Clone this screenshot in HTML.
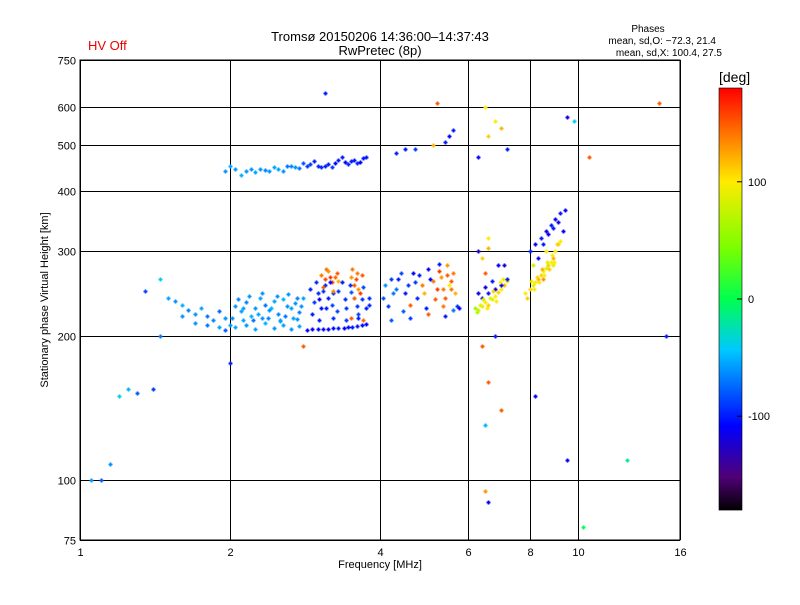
<!DOCTYPE html>
<html><head><meta charset="utf-8"><style>
body{margin:0;background:#fff;}
svg text{font-family:"Liberation Sans",sans-serif;}
</style></head><body>
<svg id="chart" width="800" height="600" xmlns="http://www.w3.org/2000/svg">
<rect width="800" height="600" fill="#fff"/>
<text x="380" y="41" font-size="13" text-anchor="middle">Tromsø 20150206 14:36:00–14:37:43</text>
<text x="380" y="55" font-size="13" text-anchor="middle">RwPretec (8p)</text>
<text x="88" y="50" font-size="13" fill="#e00">HV Off</text>
<text x="648" y="32" font-size="10" text-anchor="middle">Phases</text>
<text x="716" y="44" font-size="10" text-anchor="end">mean, sd,O: −72.3, 21.4</text>
<text x="722" y="56" font-size="10" text-anchor="end">mean, sd,X: 100.4, 27.5</text>
<g id="grid"></g>
<g id="marks"></g>
<rect x="80" y="60" width="600" height="480" fill="none" stroke="#000" stroke-width="1"/>
<g id="xt"></g>
<g id="yt"></g>
<text x="380" y="568" font-size="11" text-anchor="middle">Frequency [MHz]</text>
<text transform="translate(48,300) rotate(-90)" font-size="11" text-anchor="middle">Stationary phase Virtual Height [km]</text>
<g id="cbar"></g>
<text x="719" y="82" font-size="14">[deg]</text>
</svg>
<script>
const xTicks=[1,2,4,6,8,10,16];
const yTicks=[75,100,200,300,400,500,600,750];
const cbTicks=[100,0,-100];
const freq=[
1.35,1.45,1.5,1.55,1.6,1.65,1.7,1.75,1.8,1.85,1.9,1.95,
1.6,1.7,1.8,1.9,1.95,2.0,
2.05,2.1,2.15,2.2,2.25,2.3,2.35,2.4,2.45,2.5,2.55,2.6,2.65,2.7,2.75,2.8,
2.05,2.15,2.25,2.35,2.45,2.55,2.65,2.75,
2.9,2.95,3.0,3.05,3.1,3.15,3.2,3.3,3.4,3.5,3.6,3.7,3.8,
2.85,3.0,3.15,3.3,3.45,3.6,3.75,
3.05,3.1,3.15,3.2,3.25,3.5,3.55,3.6,3.65,3.3,3.5,3.7,
1.95,2.0,2.05,2.1,2.2,2.4,2.5,2.6,2.7,2.8,2.9,3.0,3.1,3.2,3.3,3.4,3.5,3.6,3.7,
4.05,4.1,4.2,4.3,4.4,4.5,4.6,4.7,4.8,4.9,5.0,5.1,5.2,5.3,5.4,5.5,5.6,5.7,
4.2,4.6,5.0,5.4,5.6,5.75,
4.3,4.5,4.7,5.5,5.6,5.4,5.1,5.2,
6.2,6.3,6.4,6.5,6.6,6.7,6.8,6.9,7.0,7.1,7.2,6.4,6.6,6.8,7.0,7.2,6.3,6.6,7.1,6.5,
6.6,6.8,7.0,6.5,7.2,6.3,
7.8,8.0,8.1,8.2,8.3,8.4,8.5,8.6,8.7,8.8,8.9,9.0,9.1,9.2,8.0,8.2,8.4,8.6,8.8,9.0,9.2,9.4,8.5,8.9,
1.05,1.1,1.15,1.2,1.25,1.3,1.4,1.45,3.1,2.8,2.0,6.5,6.6,8.2,9.5,10.2,12.5,15.0,14.5,10.5,9.8,9.5,6.8,6.4,7.0,6.6,6.5,
2.02,2.08,2.12,2.18,2.22,2.28,2.32,2.38,2.42,2.48,2.52,2.58,2.62,2.68,2.72,2.78,2.12,2.32,2.52,2.72,
2.92,2.98,3.02,3.08,3.12,3.18,3.22,3.28,3.35,3.42,3.48,3.55,3.62,3.68,3.75,3.02,3.22,3.42,3.62,3.8,
2.92,3.08,3.22,3.38,3.52,3.68,
3.08,3.12,3.18,3.22,3.28,3.52,3.58,3.62,3.68,3.55,
2.15,2.25,2.3,2.35,2.45,2.55,2.65,2.75,2.85,2.95,3.05,3.15,3.25,3.35,3.45,3.55,3.65,3.75,
4.15,4.25,4.35,4.45,4.55,4.65,4.75,4.85,4.95,5.05,5.15,5.25,5.35,5.45,5.55,5.65,5.25,5.35,5.45,5.55,
6.25,6.35,6.45,6.55,6.65,6.75,6.85,6.95,7.05,6.3,6.5,6.7,6.9,6.4,6.6,
7.9,8.05,8.15,8.25,8.35,8.45,8.55,8.65,8.75,8.85,8.95,9.05,8.3,8.5,8.7,8.9,9.1,8.1,8.6,9.3
];
const height=[
248,262,240,236,232,226,222,228,220,215,225,218,
220,212,210,208,205,210,
230,225,235,220,228,240,232,226,236,222,238,230,228,234,224,240,
208,210,206,212,207,210,206,209,
250,235,245,228,255,240,232,248,238,246,230,252,240,
205,206,206,207,208,209,211,
268,262,272,258,265,265,255,270,245,260,218,215,
440,450,445,432,445,440,445,450,448,458,455,450,452,448,465,460,462,458,468,
240,255,262,250,270,245,232,258,268,245,275,260,250,265,240,255,270,230,
215,218,222,220,226,228,
480,490,490,520,535,505,500,610,
228,226,230,235,232,238,242,246,250,255,260,240,245,250,255,262,300,305,280,270,
520,560,540,600,490,470,
245,250,255,258,262,268,272,276,280,285,290,300,310,315,300,310,320,330,340,350,360,365,262,280,
100,100,108,150,155,152,155,200,640,190,175,95,90,150,110,80,110,200,610,470,560,570,200,190,140,160,130,
218,238,228,242,215,222,245,218,228,242,215,220,244,218,240,230,215,218,214,216,
222,258,238,248,228,258,245,225,258,228,255,240,222,238,228,215,218,215,218,232,
206,206,207,207,208,210,
252,275,265,248,270,275,262,250,268,240,
440,438,445,442,448,440,452,446,450,462,448,455,458,470,455,465,460,470,
230,245,262,225,255,270,240,255,228,262,238,272,250,280,260,245,282,230,268,250,
224,232,238,228,240,248,236,258,262,245,252,260,280,290,320,
240,260,250,265,258,275,268,285,275,295,285,310,290,310,325,335,345,280,300,330
];
const phase=[
-85,-40,-55,-60,-50,-65,-60,-55,-70,-65,-75,-60,
-60,-60,-70,-55,-80,-60,
-60,-55,-65,-50,-60,-55,-70,-60,-55,-65,-50,-60,-55,-60,-65,-55,
-55,-60,-55,-50,-60,-55,-60,-55,
-100,-90,-95,-105,-95,-100,-85,-90,-95,-80,-90,-85,-95,
-110,-105,-110,-100,-105,-100,-110,
140,155,130,150,145,130,150,140,160,120,150,145,
-60,-55,-60,-50,-60,-60,-55,-70,-60,-80,-90,-95,-100,-90,-100,-110,-100,-95,-100,
-80,-60,-90,-70,-85,-100,150,-90,-100,120,-110,140,160,130,150,100,140,-90,
-80,-90,150,-100,-70,-110,
-100,-100,-90,-110,-100,-100,120,150,
60,80,90,100,110,90,100,110,100,120,90,-110,-100,-120,-110,-100,-130,120,-120,150,
110,100,120,100,-100,-110,
100,110,90,100,120,110,100,90,110,100,120,100,110,100,-100,-110,-100,-120,-100,-110,-100,-110,130,90,
-60,-80,-60,-40,-50,-80,-90,-70,-100,150,-100,130,-110,-110,-110,0,-20,-100,150,150,-40,-120,-100,150,150,150,-50,
-60,-65,-55,-60,-70,-55,-60,-65,-50,-60,-55,-70,-60,-55,-65,-60,-55,-60,-55,-60,
-100,-95,-110,-90,-100,-105,-95,-85,-100,-90,-95,-100,-85,-90,-100,-100,-95,-90,-100,-95,
-110,-105,-105,-110,-100,-105,
150,140,160,135,150,140,155,130,150,145,
-60,-55,-60,-65,-55,-60,-65,-70,-90,-100,-95,-100,-110,-100,-95,-100,-110,-100,
-90,-70,-100,-80,-90,-110,-95,140,-100,-105,150,160,140,130,150,120,-100,140,150,140,
70,90,80,100,90,110,100,100,90,-110,-120,-100,-110,110,100,
110,90,100,110,100,120,100,90,110,100,100,110,-110,-100,-110,-100,-120,80,100,-110
];
const NS='http://www.w3.org/2000/svg';
const X0=80,X1=680,Y0=540,Y1=60;
function xs(f){return X0+(X1-X0)*Math.log2(f)/4;}
function ys(h){return Y0-(Y0-Y1)*Math.log10(h/75);}
const stops=[[0,0,0,0],[0.08,80,0,120],[0.2,0,0,255],[0.38,0,200,255],[0.5,0,255,80],[0.62,120,255,0],[0.78,255,235,0],[0.88,255,130,0],[1,255,0,0]];
function col(p){let t=(p+180)/360;t=Math.max(0,Math.min(1,t));for(let i=1;i<stops.length;i++){if(t<=stops[i][0]){const a=stops[i-1],b=stops[i],u=(t-a[0])/(b[0]-a[0]);return 'rgb('+[1,2,3].map(k=>Math.round(a[k]+(b[k]-a[k])*u)).join(',')+')';}}return 'rgb(255,0,0)';}
function mk(tag,attrs,parent){const e=document.createElementNS(NS,tag);for(const k in attrs)e.setAttribute(k,attrs[k]);parent.appendChild(e);return e;}
const grid=document.getElementById('grid'),xt=document.getElementById('xt'),yt=document.getElementById('yt');
xTicks.forEach(v=>{const x=Math.round(xs(v))+0.5;
const l=mk('line',{x1:x,x2:x,y1:Y1,y2:Y0,stroke:'#000','stroke-width':1},grid);


const t=mk('text',{x:x,y:556,'font-size':11,'text-anchor':'middle'},xt);t.textContent=v;

});
yTicks.forEach(v=>{const y=Math.round(ys(v))+0.5;
const l=mk('line',{x1:X0,x2:X1,y1:y,y2:y,stroke:'#000','stroke-width':1},grid);


const t=mk('text',{x:76,y:y+4,'font-size':11,'text-anchor':'end'},yt);t.textContent=v;

});
const marks=document.getElementById('marks');
for(let i=0;i<freq.length;i++){const x=Math.round(xs(freq[i]))+0.5,y=Math.round(ys(height[i]))+0.5;
const p=mk('path',{d:`M${x-2},${y}h4M${x},${y-2}v4`,stroke:col(phase[i]),'stroke-width':1.8,fill:'none'},marks);

}
const cb=document.getElementById('cbar');const CT=88,CB=510,CX=719,CW=23;
for(let y=CT;y<CB;y++){const v=180-(y-CT)/(CB-CT)*360;mk('rect',{x:CX,y:y,width:CW,height:1.2,fill:col(v)},cb);}
mk('rect',{x:CX,y:CT,width:CW,height:CB-CT,fill:'none',stroke:'#000','stroke-width':0.6},cb);
cbTicks.forEach(v=>{const y=CT+(180-v)/360*(CB-CT);
mk('line',{x1:CX+CW-5,x2:CX+CW,y1:y,y2:y,stroke:'#000'},cb);
const t=mk('text',{x:748,y:y+4,'font-size':11},cb);t.textContent=v;

});
</script>
</body></html>
